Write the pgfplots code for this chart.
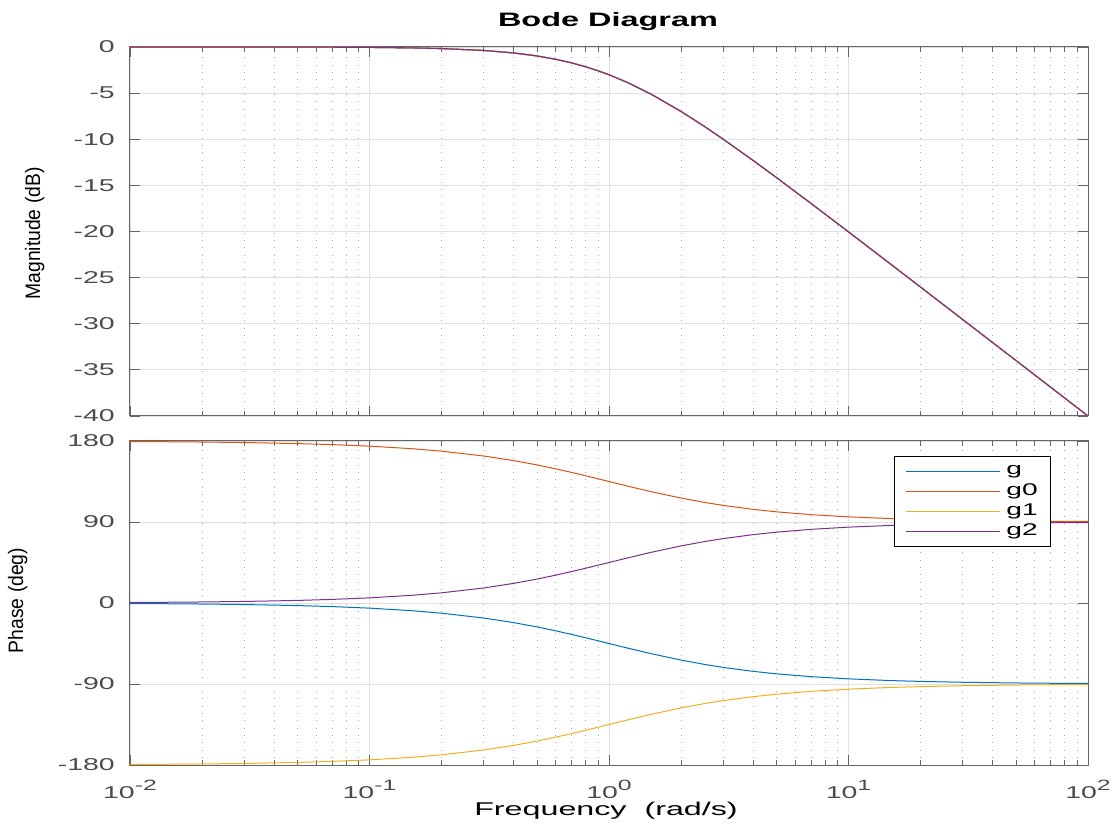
\documentclass[border=0pt]{standalone}
\usepackage{fontspec}
\setmainfont{Liberation Sans}
\usepackage{graphicx}
\usepackage{pgfplots}
\usepackage{pgfplotstable}
\pgfplotsset{compat=1.18}
\definecolor{cg}{HTML}{0072BD}
\definecolor{cgz}{HTML}{D95319}
\definecolor{cgo}{HTML}{EDB120}
\definecolor{cgt}{HTML}{7E2F8E}
\newcommand{\sx}[1]{\scalebox{1.66}[1]{#1}}
\newcommand{\tl}[1]{\sx{10\raisebox{7.6bp}{\fontsize{15}{15}\selectfont #1}}}

\pgfplotstableread{
w mag g g0 g1 g2
0.01 -0.0004 -0.5729 179.4271 -179.4271 0.5729
0.015 -0.0010 -0.8594 179.1406 -179.1406 0.8594
0.02 -0.0017 -1.1458 178.8542 -178.8542 1.1458
0.03 -0.0039 -1.7184 178.2816 -178.2816 1.7184
0.05 -0.0108 -2.8624 177.1376 -177.1376 2.8624
0.07 -0.0212 -4.0040 175.9960 -175.9960 4.0040
0.1 -0.0432 -5.7106 174.2894 -174.2894 5.7106
0.15 -0.0966 -8.5308 171.4692 -171.4692 8.5308
0.2 -0.1703 -11.3099 168.6901 -168.6901 11.3099
0.3 -0.3743 -16.6992 163.3008 -163.3008 16.6992
0.4 -0.6446 -21.8014 158.1986 -158.1986 21.8014
0.5 -0.9691 -26.5651 153.4349 -153.4349 26.5651
0.6 -1.3354 -30.9638 149.0362 -149.0362 30.9638
0.7 -1.7319 -34.9920 145.0080 -145.0080 34.9920
0.8 -2.1484 -38.6598 141.3402 -141.3402 38.6598
0.9 -2.5768 -41.9872 138.0128 -138.0128 41.9872
1 -3.0103 -45.0000 135.0000 -135.0000 45.0000
1.2 -3.8739 -50.1944 129.8056 -129.8056 50.1944
1.5 -5.1188 -56.3099 123.6901 -123.6901 56.3099
2 -6.9897 -63.4349 116.5651 -116.5651 63.4349
2.5 -8.6034 -68.1986 111.8014 -111.8014 68.1986
3 -10.0000 -71.5651 108.4349 -108.4349 71.5651
4 -12.3045 -75.9638 104.0362 -104.0362 75.9638
5 -14.1497 -78.6901 101.3099 -101.3099 78.6901
7 -16.9897 -81.8699 98.1301 -98.1301 81.8699
10 -20.0432 -84.2894 95.7106 -95.7106 84.2894
15 -23.5411 -86.1859 93.8141 -93.8141 86.1859
20 -26.0314 -87.1376 92.8624 -92.8624 87.1376
30 -29.5472 -88.0908 91.9092 -91.9092 88.0908
50 -33.9811 -88.8542 91.1458 -91.1458 88.8542
70 -36.9028 -89.1815 90.8185 -90.8185 89.1815
100 -40.0000 -89.4271 90.5729 -90.5729 89.4271
}\bode

\pgfplotsset{
  bodeaxis/.style={
    xmin=0.01, xmax=100,
    scale only axis, width=958bp,
    axis line style={black!60, line width=1bp},
    tick style={black!60, line width=0.8bp},
    major tick length=10bp, minor tick length=5bp,
    tick align=inside,
    xtick={0.01,0.1,1,10,100},
    minor xtick={0.02,0.03,0.04,0.05,0.06,0.07,0.08,0.09,0.2,0.3,0.4,0.5,0.6,0.7,0.8,0.9,2,3,4,5,6,7,8,9,20,30,40,50,60,70,80,90},
    xmajorgrids, xminorgrids, ymajorgrids,
    major grid style={black!12, line width=0.8bp},
    minor grid style={black!35, line width=0.8bp, dash pattern=on 0.8bp off 6.5bp},
    tick label style={font=\fontsize{17.2}{20}\selectfont, text=black!70},
    yticklabel style={inner sep=0pt, anchor=east, xshift=-15bp},
    xticklabel style={inner sep=0pt, anchor=north, yshift=-15bp},
  }
}

\begin{document}
\begin{tikzpicture}
\path[use as bounding box] (0bp,0bp) rectangle (1113bp,825bp);

\begin{semilogxaxis}[bodeaxis,
  at={(130bp,409bp)}, anchor=south west, height=369bp,
  ymin=-40, ymax=0,
  ytick={-40,-35,-30,-25,-20,-15,-10,-5,0},
  yticklabels={\sx{-40},\sx{-35},\sx{-30},\sx{-25},\sx{-20},\sx{-15},\sx{-10},\sx{-5},\sx{0}},
  xticklabels={},
]
\addplot[cg, line width=1.1bp, no markers] table[x=w, y=mag] {\bode};
\addplot[cgz, line width=1.1bp, no markers] table[x=w, y=mag] {\bode};
\addplot[cgo, line width=1.1bp, no markers] table[x=w, y=mag] {\bode};
\addplot[cgt, line width=1.1bp, no markers] table[x=w, y=mag] {\bode};
\end{semilogxaxis}

\begin{semilogxaxis}[bodeaxis,
  at={(130bp,60bp)}, anchor=south west, height=324bp,
  ymin=-180, ymax=180,
  ytick={-180,-90,0,90,180},
  yticklabels={\sx{-180},\sx{-90},\sx{0},\sx{90},\sx{180}},
  xticklabels={\tl{-2},\tl{-1},\tl{0},\tl{1},\tl{2}},
  legend cell align=left,
  legend style={at={(0.7975,0.9537)}, anchor=north west, draw=black, line width=0.8bp, fill=white,
    inner xsep=11bp, inner ysep=4.5bp, font=\fontsize{17}{20}\selectfont,
    nodes={inner sep=2bp, text height=12bp, text depth=4.3bp},
    row sep=0bp, column sep=4bp},
]
\addplot[cg, line width=1bp, no markers,
  legend image code/.code={\draw[cg, line width=1bp] (0bp,0bp) -- (94bp,0bp);}] table[x=w, y=g] {\bode};
\addlegendentry{\sx{g}}
\addplot[cgz, line width=1bp, no markers,
  legend image code/.code={\draw[cgz, line width=1bp] (0bp,0bp) -- (94bp,0bp);}] table[x=w, y=g0] {\bode};
\addlegendentry{\sx{g0}}
\addplot[cgo, line width=1bp, no markers,
  legend image code/.code={\draw[cgo, line width=1bp] (0bp,0bp) -- (94bp,0bp);}] table[x=w, y=g1] {\bode};
\addlegendentry{\sx{g1}}
\addplot[cgt, line width=1bp, no markers,
  legend image code/.code={\draw[cgt, line width=1bp] (0bp,0bp) -- (94bp,0bp);}] table[x=w, y=g2] {\bode};
\addlegendentry{\sx{g2}}
\end{semilogxaxis}

\node[anchor=base, inner sep=0pt] at (608bp,798bp)
  {\scalebox{1.67}[1]{\fontsize{19.5}{22}\selectfont\bfseries Bode Diagram}};
\node[anchor=base, inner sep=0pt] at (606bp,10bp)
  {\scalebox{1.75}[1]{\fontsize{18.5}{22}\selectfont Frequency\ \ (rad/s)}};
\node[rotate=90, anchor=base, inner sep=0pt] at (40bp,591.5bp)
  {\scalebox{1}[1.08]{\fontsize{19.4}{22}\selectfont Magnitude (dB)}};
\node[rotate=90, anchor=base, inner sep=0pt] at (23bp,224.5bp)
  {\scalebox{1}[1.08]{\fontsize{19.4}{22}\selectfont Phase (deg)}};
\end{tikzpicture}
\end{document}
